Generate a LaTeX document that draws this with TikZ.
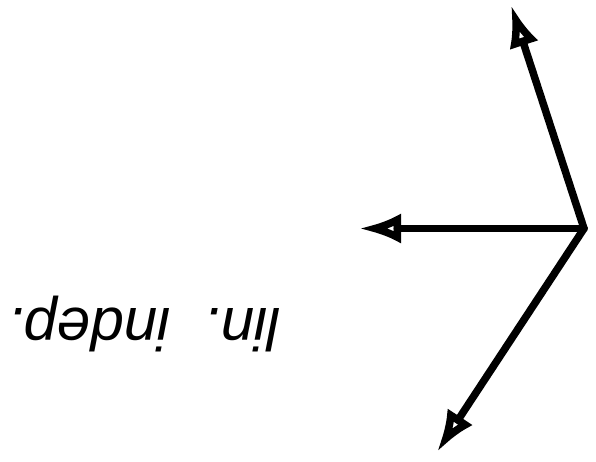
\documentclass[tikz,border=0pt]{standalone}
\usepackage{fontspec}
\setmainfont{Liberation Sans}
\usetikzlibrary{arrows.meta}
\tikzset{
  vec/.style={-{Latex[open,length=42pt,width=30pt]}, draw=black, line width=7.5pt, line cap=round, line join=round},
  lbl/.style={font=\fontsize{60}{66}\selectfont\itshape, rotate=180, inner sep=0pt}
}
\begin{document}
\begin{tikzpicture}[x=1pt,y=-1pt]
  \useasboundingbox (0,0) rectangle (596,461);
  \coordinate (o) at (584,228.5);
  \coordinate (up) at (511,5);
  \coordinate (lt) at (359,228.5);
  \coordinate (dn) at (437,452);
  \draw[vec] (o) -- (up);
  \draw[vec] (o) -- (lt);
  \draw[vec] (o) -- (dn);
  \node[lbl] (txt) at (144,324) {lin.\ \ indep.};
\end{tikzpicture}
\end{document}
